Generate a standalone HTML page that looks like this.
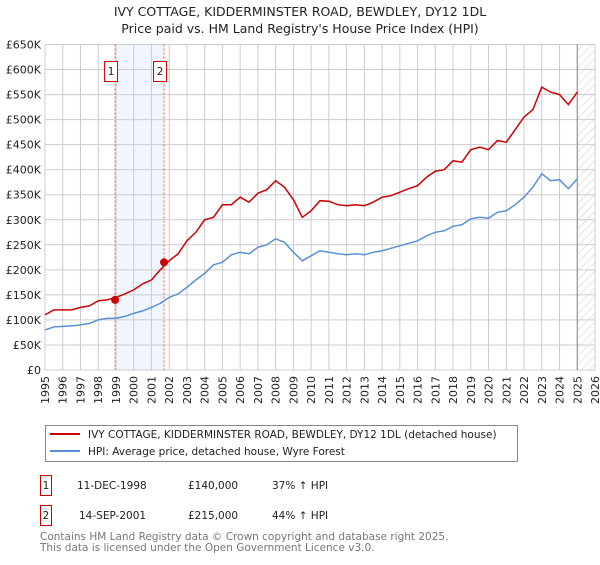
<!DOCTYPE html>
<html><head><meta charset="utf-8"><style>
body{margin:0;background:#fff;font-family:"Liberation Sans","DejaVu Sans",sans-serif;}
svg text{font-family:"DejaVu Sans","Liberation Sans",sans-serif;}
</style></head><body>
<svg width="600" height="560" xmlns="http://www.w3.org/2000/svg" id="chart">
<defs><pattern id="hatch" width="6" height="6" patternUnits="userSpaceOnUse" patternTransform="rotate(45)"><line x1="0" y1="0" x2="0" y2="6" stroke="#ccc" stroke-width="1"/></pattern></defs>
<text x="300" y="16" text-anchor="middle" font-size="12.5" fill="#222">IVY COTTAGE, KIDDERMINSTER ROAD, BEWDLEY, DY12 1DL</text>
<text x="300" y="33" text-anchor="middle" font-size="12.5" fill="#222">Price paid vs. HM Land Registry's House Price Index (HPI)</text>
<g id="plot"></g>
<g>
<rect x="45.5" y="425.5" width="472" height="36" fill="#fff" stroke="#888"/>
<line x1="50" y1="434" x2="80" y2="434" stroke="#cc0000" stroke-width="2"/>
<text x="88" y="438" font-size="10.5" fill="#222">IVY COTTAGE, KIDDERMINSTER ROAD, BEWDLEY, DY12 1DL (detached house)</text>
<line x1="50" y1="451" x2="80" y2="451" stroke="#5b8fd6" stroke-width="2"/>
<text x="88" y="455" font-size="10.5" fill="#222">HPI: Average price, detached house, Wyre Forest</text>
</g>
<g font-size="10.5" fill="#222">
<rect x="40.5" y="475.5" width="11" height="20" fill="#fff" stroke="#cc0000"/><text x="46" y="489" text-anchor="middle">1</text>
<text x="77" y="489">11-DEC-1998</text><text x="188" y="489">£140,000</text><text x="272" y="489">37% ↑ HPI</text>
<rect x="40.5" y="505.5" width="11" height="20" fill="#fff" stroke="#cc0000"/><text x="46" y="519" text-anchor="middle">2</text>
<text x="79" y="519">14-SEP-2001</text><text x="188" y="519">£215,000</text><text x="272" y="519">44% ↑ HPI</text>
</g>
<text x="40" y="540" font-size="10.5" fill="#777">Contains HM Land Registry data © Crown copyright and database right 2025.</text>
<text x="40" y="551" font-size="10.5" fill="#777">This data is licensed under the Open Government Licence v3.0.</text>
</svg>
<script>
const yearTicks=[1995,1996,1997,1998,1999,2000,2001,2002,2003,2004,2005,2006,2007,2008,2009,2010,2011,2012,2013,2014,2015,2016,2017,2018,2019,2020,2021,2022,2023,2024,2025,2026];
const priceTicks=[0,50,100,150,200,250,300,350,400,450,500,550,600,650];
const seriesStart=1995;
const hpiValues=[80,86,87,88,90,93,100,103,103,107,113,118,125,133,145,152,165,180,193,210,215,230,235,232,245,250,262,255,235,218,228,238,235,232,230,232,230,235,238,243,248,253,258,268,275,278,287,290,302,305,303,315,318,330,345,365,392,378,380,362,382];
const propValues=[110,120,120,120,125,128,138,140,145,152,160,172,180,200,218,232,258,275,300,305,330,330,345,335,353,360,378,365,340,305,318,338,337,330,328,330,328,335,345,348,355,362,368,385,397,400,418,415,440,445,440,458,455,480,505,520,565,555,550,530,555];
const sales=[{label:"1",year:1998.95,price:140},{label:"2",year:2001.71,price:215}];
const X0=45,X1=595,Y0=370,Y1=44.5;
const xs=y=>X0+(y-1995)/(2026-1995)*(X1-X0);
const ys=v=>Y0-v/650*(Y0-Y1);
const NS="http://www.w3.org/2000/svg";
const g=document.getElementById('plot');
function mk(t,a){const e=document.createElementNS(NS,t);for(const k in a)e.setAttribute(k,a[k]);g.appendChild(e);return e;}
let band=mk('rect',{x:xs(sales[0].year),y:Y1,width:xs(sales[1].year)-xs(sales[0].year),height:Y0-Y1,fill:'#edf2fc',opacity:0.8});


let hat=mk('rect',{x:xs(2025),y:Y1,width:X1-xs(2025),height:Y0-Y1,fill:'url(#hatch)'});


yearTicks.forEach(y=>{
 let l=mk('line',{x1:xs(y),x2:xs(y),y1:Y1,y2:Y0,stroke:'#ccc','stroke-width':1});
 
 
 let t=mk('text',{x:0,y:0,'font-size':11,fill:'#222','text-anchor':'end',transform:`translate(${xs(y)+4},${Y0+6}) rotate(-90)`});
 t.textContent=y;
 
 
});
priceTicks.forEach(v=>{
 let l=mk('line',{x1:X0,x2:X1,y1:ys(v),y2:ys(v),stroke:'#ccc','stroke-width':1});
 
 
 let t=mk('text',{x:41,y:ys(v)+4,'font-size':11,fill:'#222','text-anchor':'end'});
 t.textContent=v===0?'£0':'£'+v+'K';
 
 
});
let nowl=mk('line',{x1:xs(2025),x2:xs(2025),y1:Y1,y2:Y0,stroke:'#888','stroke-width':1});


sales.forEach(s=>{
 let l=mk('line',{x1:xs(s.year),x2:xs(s.year),y1:Y1,y2:Y0,stroke:'#e55','stroke-width':1,'stroke-dasharray':'2,2'});
 
 
 let r=mk('rect',{x:xs(s.year)-10.5,y:61.5,width:13,height:20,fill:'#fff',stroke:'#cc0000'});
 
 
 let t=mk('text',{x:xs(s.year)-4,y:75,'font-size':10.5,fill:'#222','text-anchor':'middle'});
 t.textContent=s.label;
 
 
});
function pathOf(arr){return arr.map((v,i)=>(i?'L':'M')+xs(seriesStart+i*0.5).toFixed(1)+','+ys(v).toFixed(1)).join(' ');}
let hp=mk('path',{d:pathOf(hpiValues),fill:'none',stroke:'#5b8fd6','stroke-width':1.5});


let pp=mk('path',{d:pathOf(propValues),fill:'none',stroke:'#cc0000','stroke-width':1.5});


sales.forEach(s=>{
 let c=mk('circle',{cx:xs(s.year),cy:ys(s.price),r:4,fill:'#cc0000'});
 
 
});
</script>
</body></html>
